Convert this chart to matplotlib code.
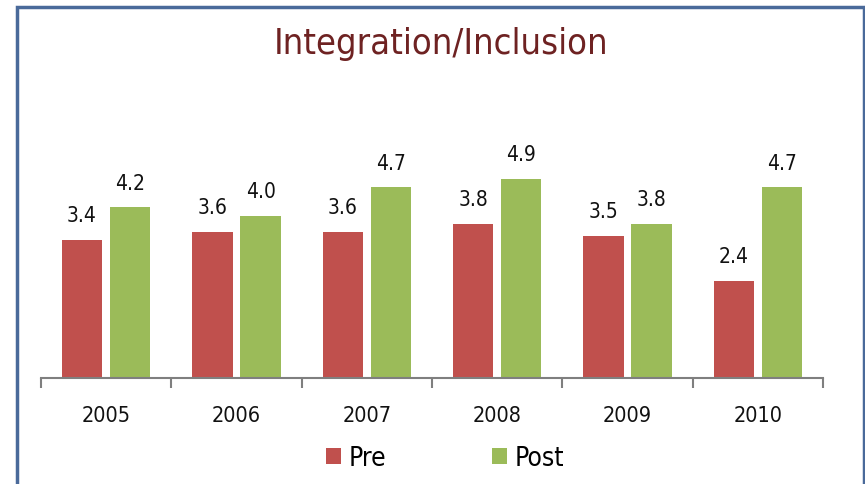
import numpy as np
import matplotlib.pyplot as plt
from matplotlib.patches import Rectangle

# --- Data ---
years = ['2005', '2006', '2007', '2008', '2009', '2010']
pre = [3.4, 3.6, 3.6, 3.8, 3.5, 2.4]
post = [4.2, 4.0, 4.7, 4.9, 3.8, 4.7]

RED = '#C0504D'
GREEN = '#9BBB59'
TITLE_COLOR = '#6E2222'
FONT = ['DejaVu Sans']
TXT = dict(family=FONT, stretch='condensed', color='#111111')

W, H = 865, 485
fig = plt.figure(figsize=(W / 100, H / 100), dpi=100)

# axes placed in pixel terms: x 41..823, baseline at y=379, 40.6 px per unit
ymax = 6.0
ax_left, ax_right = 41, 823
base = 379
top = base - ymax * 40.6
ax = fig.add_axes([ax_left / W, 1 - base / H, (ax_right - ax_left) / W, (base - top) / H])

x = np.arange(len(years))
bw = 0.31
ax.bar(x - 0.185, pre, width=bw, color=RED, label='Pre')
ax.bar(x + 0.185, post, width=bw, color=GREEN, label='Post')

for xi, v in zip(x, pre):
    ax.text(xi - 0.185, v + 0.36, f'{v:.1f}', ha='center', va='bottom',
            fontsize=15, **TXT)
for xi, v in zip(x, post):
    ax.text(xi + 0.185, v + 0.36, f'{v:.1f}', ha='center', va='bottom',
            fontsize=15, **TXT)

ax.set_xlim(-0.5, len(years) - 0.5)
ax.set_ylim(0, ymax)
for s in ['top', 'right', 'left']:
    ax.spines[s].set_visible(False)
ax.spines['bottom'].set_color('#7F7F7F')
ax.spines['bottom'].set_linewidth(1.5)
ax.set_yticks([])

# category labels and boundary ticks
ax.set_xticks(np.arange(-0.5, len(years)), minor=False)
ax.set_xticklabels([])
ax.tick_params(axis='x', length=7, width=1.5, color='#7F7F7F')
for xi, yr in zip(x, years):
    ax.text(xi, -0.92, yr, ha='center', va='center', fontsize=15.5, **TXT)

# title
fig.text(441 / W, 1 - 44 / H, 'Integration/Inclusion', ha='center', va='center',
         fontsize=26, family=FONT, stretch='condensed', color=TITLE_COLOR)

# legend
fig.legend(loc='center', bbox_to_anchor=(445 / W, 1 - 459 / H), ncol=2,
           frameon=False, prop={'family': FONT, 'stretch': 'condensed', 'size': 19},
           handlelength=0.57, handleheight=0.57, handletextpad=0.3,
           columnspacing=4.0)

# outer frame
fig.patches.append(Rectangle((17 / W, -0.05), (864 - 17) / W, 1.05 - 8 / H,
                             transform=fig.transFigure, fill=False,
                             edgecolor='#4A6A9A', linewidth=2.5))

fig.savefig('out.png', dpi=100)
